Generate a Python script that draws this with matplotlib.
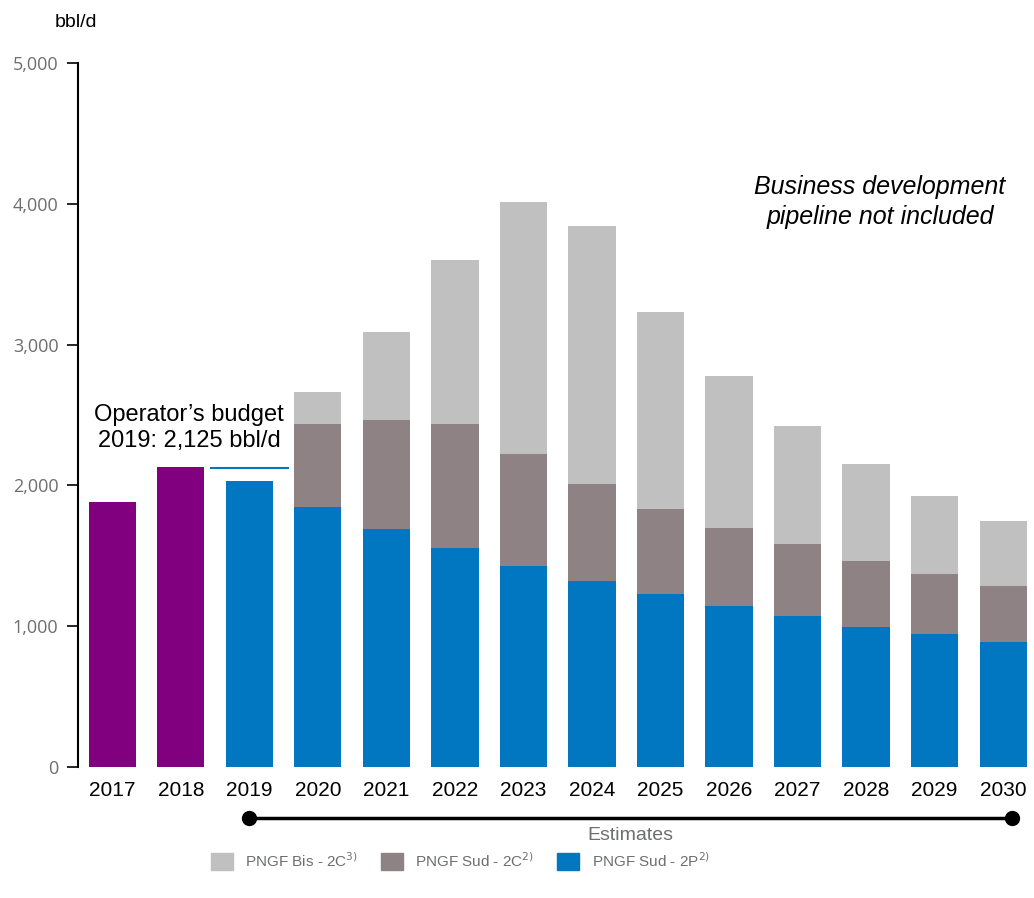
import matplotlib
matplotlib.use("Agg")
import matplotlib.pyplot as plt
from matplotlib.patches import Patch
from matplotlib.ticker import FuncFormatter

years = ["2017", "2018", "2019", "2020", "2021", "2022", "2023", "2024",
         "2025", "2026", "2027", "2028", "2029", "2030"]
historic = [1882, 2131, 0, 0, 0, 0, 0, 0, 0, 0, 0, 0, 0, 0]
sud_2p = [0, 0, 2031, 1847, 1690, 1555, 1428, 1321, 1231, 1143, 1072, 994, 945, 888]
sud_2c = [0, 0, 0, 589, 774, 881, 795, 689, 601, 554, 512, 469, 426, 397]
bis_2c = [0, 0, 0, 227, 625, 1165, 1790, 1832, 1400, 1080, 838, 689, 554, 462]
budget_2019 = 2125
yticks = [0, 1000, 2000, 3000, 4000, 5000]

c_hist = "#800080"
c_2p = "#0077C0"
c_2c = "#8E8284"
c_bis = "#C0C0C0"
tick_grey = "#6D6E71"

plt.rcParams['font.family'] = ['Liberation Sans', 'DejaVu Sans']

fig = plt.figure(figsize=(10.34, 8.98), dpi=100)
ax = fig.add_axes([0.0754, 0.1459, 0.9246, 0.7839])

x = list(range(len(years)))
w = 0.69
ax.bar(x, historic, width=w, color=c_hist)
ax.bar(x, sud_2p, width=w, color=c_2p)
b2 = [a for a in sud_2p]
ax.bar(x, sud_2c, width=w, bottom=b2, color=c_2c)
b3 = [a + b for a, b in zip(sud_2p, sud_2c)]
ax.bar(x, bis_2c, width=w, bottom=b3, color=c_bis)

i19 = years.index("2019")
ax.hlines(budget_2019, i19 - 0.58, i19 + 0.58, color=c_2p, lw=1.5)
ax.text(1.12, 2235, "Operator\u2019s budget\n2019: 2,125 bbl/d", ha="center", va="bottom",
        fontsize=17, linespacing=1.25)

ax.text(0.839, 0.803, "Business development\npipeline not included", transform=ax.transAxes,
        ha="center", va="center", fontsize=18, style="italic", linespacing=1.3)

ax.set_xlim(-0.5, 13.45)
ax.set_ylim(0, 5000)
ax.set_yticks(yticks)
ax.yaxis.set_major_formatter(FuncFormatter(lambda v, p: f"{int(v):,}"))
for lab in ax.get_yticklabels():
    lab.set_family(['Open Sans', 'DejaVu Sans'])
ax.tick_params(axis="y", direction="out", length=8, width=1.2, colors="black",
               labelcolor=tick_grey, labelsize=13, pad=6)
ax.set_xticks(x)
ax.set_xticklabels(years, fontsize=15)
ax.tick_params(axis="x", length=0, pad=10)
for s in ["top", "right", "bottom"]:
    ax.spines[s].set_visible(False)
ax.spines["left"].set_linewidth(1.5)

fig.text(0.053, 0.975, "bbl/d", fontsize=14, ha="left", va="center")

# Estimates bracket
i30 = years.index("2030")
ax.plot([i19, i30 + 0.13], [-360, -360], color="black", lw=2.5, marker="o",
        markersize=10, clip_on=False)
ax.text((i19 + i30 + 0.13) / 2, -485, "Estimates", ha="center", va="center",
        fontsize=14, color=tick_grey)

handles = [Patch(color=c_bis), Patch(color=c_2c), Patch(color=c_2p)]
labels = [r"PNGF Bis - 2C$^{3)}$", r"PNGF Sud - 2C$^{2)}$", r"PNGF Sud - 2P$^{2)}$"]
leg = fig.legend(handles, labels, loc="center", bbox_to_anchor=(0.445, 0.042), ncol=3,
                 frameon=False, fontsize=11, handlelength=1.45, handleheight=1.25,
                 columnspacing=1.5, handletextpad=0.8)
for t in leg.get_texts():
    t.set_color(tick_grey)

fig.savefig("out.png", dpi=100)
